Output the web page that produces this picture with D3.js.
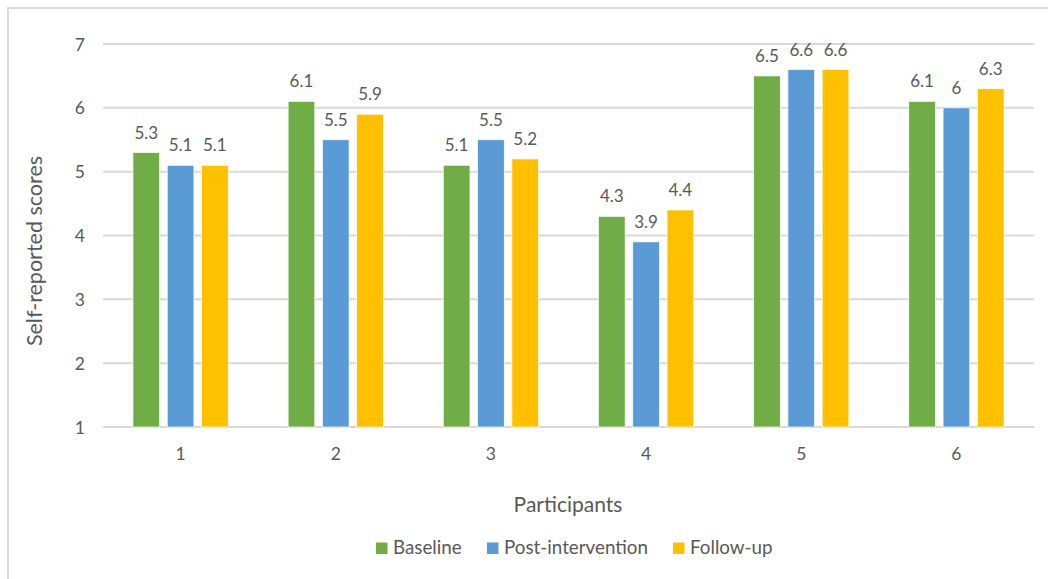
<!DOCTYPE html>
<html><head><meta charset="utf-8">
<script src="https://cdn.jsdelivr.net/npm/d3@7"></script>
<style>body{margin:0;background:#fff;} text{font-family:Lato,"Open Sans",sans-serif;fill:#595959;}</style>
</head><body>
<svg id="c" width="1048" height="579"></svg>
<script>
const categories = ["1","2","3","4","5","6"];
const seriesNames = ["Baseline","Post-intervention","Follow-up"];
const baseline = [5.3,6.1,5.1,4.3,6.5,6.1];
const postIntervention = [5.1,5.5,5.5,3.9,6.6,6.0];
const followUp = [5.1,5.9,5.2,4.4,6.6,6.3];
const yTicks = [1,2,3,4,5,6,7];
const colors = ["#70ad47","#5b9bd5","#ffc000"];
const series = [baseline, postIntervention, followUp];

const svg = d3.select("#c");
svg.append("rect").attr("x",8).attr("y",8).attr("width",1048).attr("height",600)
  .attr("fill","none").attr("stroke","#d9d9d9").attr("stroke-width",2);

const L=103, R=1034, T=44, B=427;
const x = d3.scaleBand().domain(categories).range([L,R]);
const y = d3.scaleLinear().domain([1,7]).range([B,T]);
const step = x.bandwidth()*0.221, bw = x.bandwidth()*0.172;

svg.append("g").selectAll("line").data(yTicks).join("line")
  .attr("x1",L).attr("x2",R).attr("y1",d=>y(d)).attr("y2",d=>y(d))
  .attr("stroke","#d9d9d9").attr("stroke-width",2);

svg.append("g").selectAll("text").data(yTicks).join("text")
  .attr("x",85).attr("y",d=>y(d)+6.5).attr("text-anchor","end")
  .attr("font-size",17.5).text(d=>d);

svg.append("g").selectAll("text").data(categories).join("text")
  .attr("x",d=>x(d)+x.bandwidth()/2).attr("y",460).attr("text-anchor","middle")
  .attr("font-size",17.5).text(d=>d);

series.forEach((vals,si)=>{
  const g = svg.append("g");
  const off = (si-1)*step - bw/2;
  g.selectAll("rect").data(vals).join("rect")
    .attr("x",(d,i)=>x(categories[i])+x.bandwidth()/2+off)
    .attr("y",d=>y(d)).attr("width",bw).attr("height",d=>y(1)-y(d))
    .attr("fill",colors[si]).attr("stroke","#fff").attr("stroke-width",0.7);
  g.selectAll("text").data(vals).join("text")
    .attr("x",(d,i)=>x(categories[i])+x.bandwidth()/2+off+bw/2)
    .attr("y",d=>y(d)-14).attr("text-anchor","middle").attr("font-size",17)
    .text(d=>d3.format("~g")(d));
});

svg.append("text").attr("transform","translate(42,251) rotate(-90)")
  .attr("text-anchor","middle").attr("font-size",21.5).text("Self-reported scores");
svg.append("text").attr("x",568).attr("y",512).attr("text-anchor","middle")
  .attr("font-size",21).text("Participants");

const legX = [376,487,673];
seriesNames.forEach((n,i)=>{
  svg.append("rect").attr("x",legX[i]).attr("y",542.5).attr("width",11.5).attr("height",11.5).attr("fill",colors[i]);
  svg.append("text").attr("x",legX[i]+17).attr("y",554).attr("font-size",18.8).text(n);
});
</script>
</body></html>
